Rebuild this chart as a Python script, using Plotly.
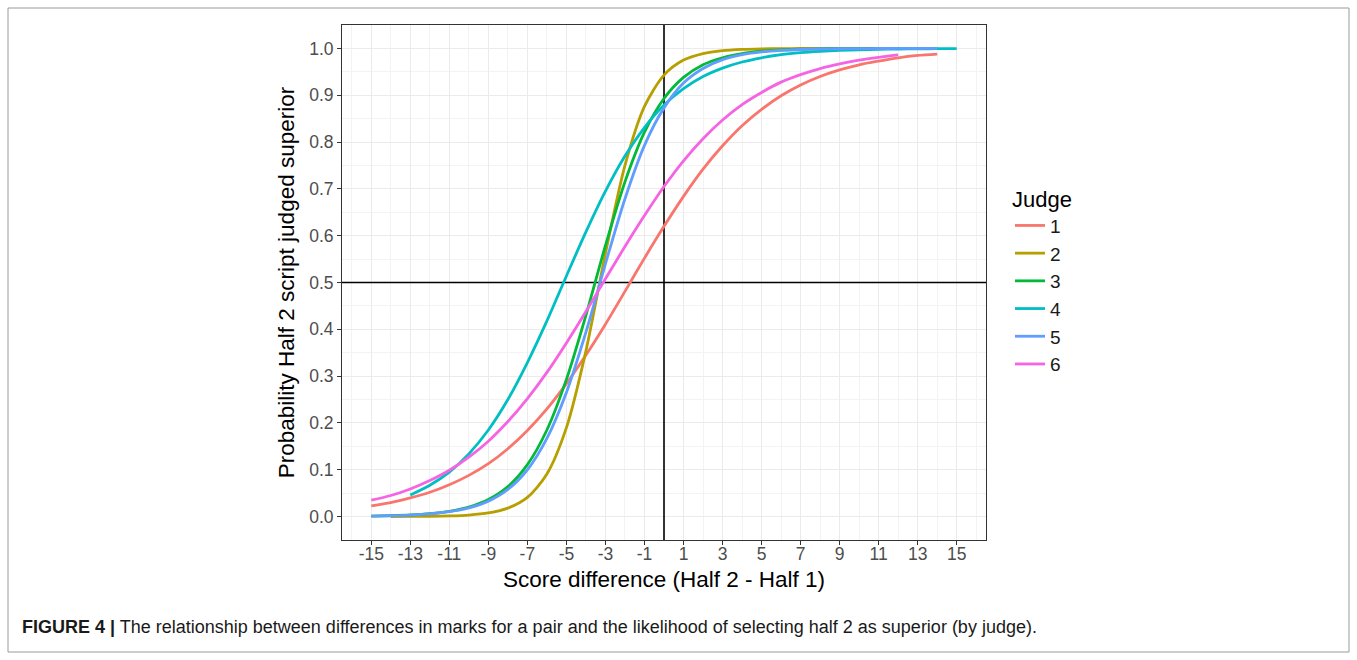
import plotly.graph_objects as go

# ---------------- data ----------------
judges = ["1", "2", "3", "4", "5", "6"]
colors = ["#F8766D", "#B79F00", "#00BA38", "#00BFC4", "#619CFF", "#F564E3"]

x_j1 = [-15, -14, -13, -12, -11, -10, -9, -8, -7, -6, -5, -4, -3, -2, -1, 0,
        1, 2, 3, 4, 5, 6, 7, 8, 9, 10, 11, 12, 13, 14]
p_j1 = [0.023, 0.030, 0.040, 0.052, 0.068, 0.088, 0.113, 0.145, 0.184, 0.230,
        0.284, 0.345, 0.411, 0.481, 0.552, 0.620, 0.684, 0.742, 0.792, 0.835,
        0.870, 0.899, 0.922, 0.940, 0.954, 0.965, 0.973, 0.980, 0.985, 0.988]

x_j2 = [-14, -13, -12, -11, -10, -9, -8, -7, -6, -5, -4, -3, -2, -1, 0,
        1, 2, 3, 4, 5, 6, 7, 8, 9, 10, 11, 12, 13]
p_j2 = [0.0001, 0.0003, 0.0006, 0.0014, 0.0033, 0.0078, 0.018, 0.041, 0.091,
        0.190, 0.354, 0.562, 0.750, 0.876, 0.943, 0.975, 0.989, 0.9953, 0.998,
        0.9991, 0.9996, 0.9998, 0.9999, 0.9999, 1.0, 1.0, 1.0, 1.0]

x_j3 = [-15, -14, -13, -12, -11, -10, -9, -8, -7, -6, -5, -4, -3, -2, -1, 0,
        1, 2, 3, 4, 5, 6, 7, 8, 9, 10, 11, 12, 13, 14]
p_j3 = [0.0010, 0.0019, 0.0034, 0.0062, 0.0112, 0.0202, 0.0363, 0.064, 0.111,
        0.185, 0.293, 0.430, 0.579, 0.715, 0.821, 0.893, 0.938, 0.965, 0.980,
        0.989, 0.994, 0.9967, 0.9982, 0.9990, 0.9995, 0.9997, 0.9998, 0.9999,
        0.9999, 1.0]

x_j4 = [-13, -12, -11, -10, -9, -8, -7, -6, -5, -4, -3, -2, -1, 0,
        1, 2, 3, 4, 5, 6, 7, 8, 9, 10, 11, 12, 13, 14, 15]
p_j4 = [0.046, 0.067, 0.095, 0.134, 0.185, 0.250, 0.329, 0.418, 0.514, 0.608,
        0.695, 0.770, 0.831, 0.879, 0.914, 0.940, 0.958, 0.971, 0.980, 0.9865,
        0.9908, 0.9937, 0.9957, 0.9971, 0.9980, 0.9986, 0.9991, 0.9994, 0.9996]

x_j5 = [-15, -14, -13, -12, -11, -10, -9, -8, -7, -6, -5, -4, -3, -2, -1, 0,
        1, 2, 3, 4, 5, 6, 7, 8, 9, 10, 11, 12, 13, 14]
p_j5 = [0.0010, 0.0018, 0.0032, 0.0058, 0.0104, 0.0185, 0.033, 0.058, 0.100,
        0.167, 0.265, 0.394, 0.540, 0.679, 0.793, 0.873, 0.926, 0.957, 0.976,
        0.9865, 0.9925, 0.9958, 0.9977, 0.9987, 0.9993, 0.9996, 0.9998, 0.9999,
        0.9999, 0.9999]

x_j6 = [-15, -14, -13, -12, -11, -10, -9, -8, -7, -6, -5, -4, -3, -2, -1, 0,
        1, 2, 3, 4, 5, 6, 7, 8, 9, 10, 11, 12]
p_j6 = [0.035, 0.045, 0.059, 0.077, 0.099, 0.127, 0.161, 0.203, 0.252, 0.308,
        0.371, 0.438, 0.508, 0.577, 0.643, 0.705, 0.760, 0.807, 0.847, 0.880,
        0.906, 0.928, 0.944, 0.957, 0.967, 0.975, 0.981, 0.986]

x_series = [x_j1, x_j2, x_j3, x_j4, x_j5, x_j6]
y_series = [p_j1, p_j2, p_j3, p_j4, p_j5, p_j6]

# reference lines
vline_x = 0
hline_p = 0.5

x_range = [-16.5, 16.5]
y_range = [-0.05, 1.05]
x_tick_vals = [-15, -13, -11, -9, -7, -5, -3, -1, 1, 3, 5, 7, 9, 11, 13, 15]
x_tick_text = ["-15", "-13", "-11", "-9", "-7", "-5", "-3", "-1",
               "1", "3", "5", "7", "9", "11", "13", "15"]
y_tick_vals = [0.0, 0.1, 0.2, 0.3, 0.4, 0.5, 0.6, 0.7, 0.8, 0.9, 1.0]
y_tick_text = ["0.0", "0.1", "0.2", "0.3", "0.4", "0.5", "0.6", "0.7", "0.8", "0.9", "1.0"]

x_title = "Score difference (Half 2 - Half 1)"
y_title = "Probability Half 2 script judged superior"
legend_title = "Judge"
caption_bold = "FIGURE 4 |"
caption_text = ("The relationship between differences in marks for a pair and the "
                "likelihood of selecting half 2 as superior (by judge).")

# ---------------- figure ----------------
W, H = 1357, 660
L, R, T, B = 342, 986, 25, 540  # plot panel in pixels


def px_x(px):
    return (px - L) / (R - L)


def px_y(py):
    return (B - py) / (B - T)


FONT = "Liberation Sans, Arial, Helvetica, sans-serif"
fig = go.Figure()

# reference lines first, so the curves sit on top of them
fig.add_trace(go.Scatter(x=[vline_x, vline_x], y=y_range, mode="lines",
                         line=dict(color="#000000", width=1.6),
                         showlegend=False, hoverinfo="skip", cliponaxis=True))
fig.add_trace(go.Scatter(x=x_range, y=[hline_p, hline_p], mode="lines",
                         line=dict(color="#000000", width=1.6),
                         showlegend=False, hoverinfo="skip", cliponaxis=True))

for name, col, xs, ys in zip(judges, colors, x_series, y_series):
    fig.add_trace(go.Scatter(
        x=xs, y=ys, mode="lines", name=name,
        line=dict(color=col, width=2.8, shape="spline", smoothing=0.8),
    ))

grid_major = "#EBEBEB"
grid_minor = "#F3F3F3"

fig.update_layout(
    template="none",
    width=W, height=H,
    margin=dict(l=L, r=W - R, t=T, b=H - B, pad=0),
    paper_bgcolor="white", plot_bgcolor="white",
    font=dict(family=FONT, color="#000000"),
    showlegend=True,
    legend=dict(
        title=dict(text=legend_title, font=dict(size=22, family=FONT, color="#000000")),
        font=dict(size=19, family=FONT, color="#1A1A1A"),
        x=px_x(1010), xanchor="left",
        y=px_y(178), yanchor="top",
        bgcolor="rgba(0,0,0,0)", borderwidth=0,
        tracegroupgap=0, itemwidth=30,
    ),
    xaxis=dict(
        range=x_range,
        tickmode="array", tickvals=x_tick_vals, ticktext=x_tick_text,
        ticks="outside", ticklen=4, tickwidth=1, tickcolor="#333333",
        tickfont=dict(size=17.5, family=FONT, color="#4D4D4D"),
        ticklabelstandoff=-6,
        showgrid=True, gridcolor=grid_major, gridwidth=1.1,
        minor=dict(tick0=-16, dtick=2, showgrid=True, gridcolor=grid_minor,
                   gridwidth=0.8, ticks=""),
        showline=True, linecolor="#333333", linewidth=1, mirror=True,
        zeroline=False, automargin=False,
        title=dict(text=x_title, font=dict(size=22.5, family=FONT, color="#000000"),
                   standoff=8),
    ),
    yaxis=dict(
        range=y_range,
        tickmode="array", tickvals=y_tick_vals, ticktext=y_tick_text,
        ticks="outside", ticklen=4, tickwidth=1, tickcolor="#333333",
        tickfont=dict(size=17.5, family=FONT, color="#4D4D4D"),
        showgrid=True, gridcolor=grid_major, gridwidth=1.1,
        minor=dict(tick0=0.05, dtick=0.1, showgrid=True, gridcolor=grid_minor,
                   gridwidth=0.8, ticks=""),
        showline=True, linecolor="#333333", linewidth=1, mirror=True,
        zeroline=False, automargin=False,
        title=dict(text=y_title, font=dict(size=22.5, family=FONT, color="#000000"),
                   standoff=8),
    ),
)

# outer figure frame
fig.add_shape(type="rect", xref="paper", yref="paper",
              x0=px_x(8), x1=px_x(1349), y0=px_y(652), y1=px_y(8),
              line=dict(color="#9A9A9A", width=1), fillcolor="rgba(0,0,0,0)",
              layer="below")

# caption
fig.add_annotation(
    xref="paper", yref="paper", x=px_x(20), y=px_y(627),
    xanchor="left", yanchor="middle", showarrow=False,
    text="<b>" + caption_bold + "</b> " + caption_text,
    font=dict(size=18, family=FONT, color="#1A1A1A"),
)

fig.write_html("out.html")
